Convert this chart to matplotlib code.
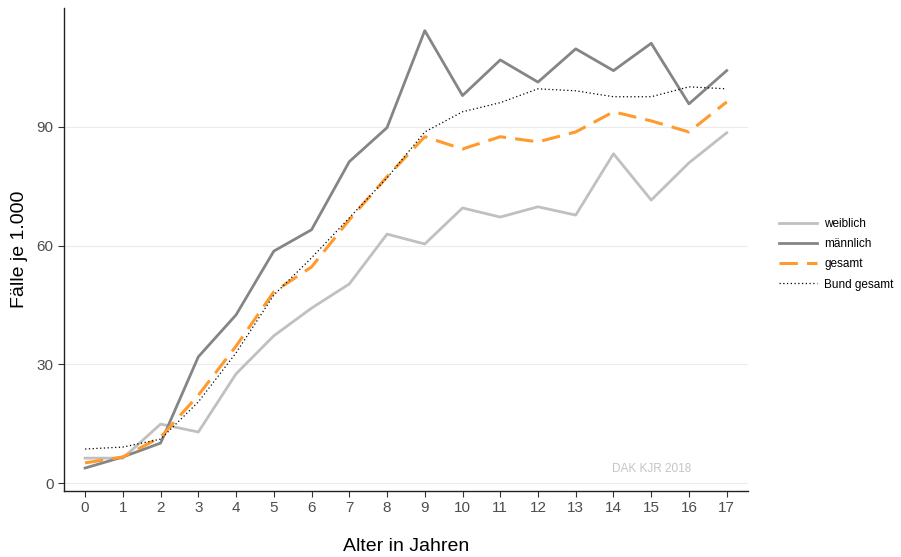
import matplotlib.pyplot as plt
import numpy as np

plt.rcParams['font.family'] = ['Liberation Sans', 'DejaVu Sans']

alter = list(range(18))
weiblich = [6.3, 6.3, 14.9, 12.9, 27.6, 37.2, 44.2, 50.3, 62.9, 60.4,
            69.5, 67.2, 69.8, 67.7, 83.2, 71.5, 80.9, 88.5]
maennlich = [3.8, 6.6, 10.1, 31.9, 42.5, 58.6, 64.0, 81.2, 89.8, 114.3,
             97.9, 106.9, 101.3, 109.7, 104.2, 111.1, 95.8, 104.2]
gesamt = [5.1, 6.6, 11.6, 22.2, 34.6, 48.3, 54.6, 66.5, 77.4, 87.5,
          84.4, 87.5, 86.2, 88.7, 93.8, 91.5, 88.7, 96.3]
bund = [8.6, 9.1, 11.1, 20.5, 32.9, 47.5, 56.9, 67.0, 77.1, 88.7,
        93.8, 96.1, 99.6, 99.1, 97.6, 97.6, 100.1, 99.6]
y_ticks = [0, 30, 60, 90]

fig = plt.figure(figsize=(9.01, 5.57), dpi=100)
ax = fig.add_axes([0.071, 0.1185, 0.759, 0.867])

for y in y_ticks:
    ax.axhline(y, color='#ebebeb', lw=0.8, zorder=0)

l1, = ax.plot(alter, weiblich, color='#c0c0c0', lw=2.0, label='weiblich')
l2, = ax.plot(alter, maennlich, color='#858585', lw=2.0, label='männlich')
l3, = ax.plot(alter, gesamt, color='#ff9a2e', lw=2.2, dashes=(6, 3), label='gesamt')
l4, = ax.plot(alter, bund, color='black', lw=0.9, ls=(0, (1, 2)), label='Bund gesamt')

ax.text(15.0, 3.5, 'DAK KJR 2018', color='#c4c4c4', fontsize=8.5,
        ha='center', va='center')

ax.set_xlim(-0.56, 17.56)
ax.set_ylim(-2, 120)
ax.set_xticks(alter)
ax.set_yticks(y_ticks)
ax.tick_params(colors='#333333', labelcolor='#4d4d4d', labelsize=11, length=4)
for s in ['top', 'right']:
    ax.spines[s].set_visible(False)
for s in ['left', 'bottom']:
    ax.spines[s].set_color('#222222')
    ax.spines[s].set_linewidth(1.0)

ax.set_xlabel('Alter in Jahren', fontsize=14, labelpad=16)
ax.set_ylabel('Fälle je 1.000', fontsize=14, labelpad=6)

fig.legend(handles=[l1, l2, l3, l4], loc='upper left',
           bbox_to_anchor=(0.853, 0.628), frameon=False, fontsize=8.5,
           handlelength=3.2, labelspacing=0.7, handletextpad=0.6)

fig.savefig('out.png', dpi=100)
